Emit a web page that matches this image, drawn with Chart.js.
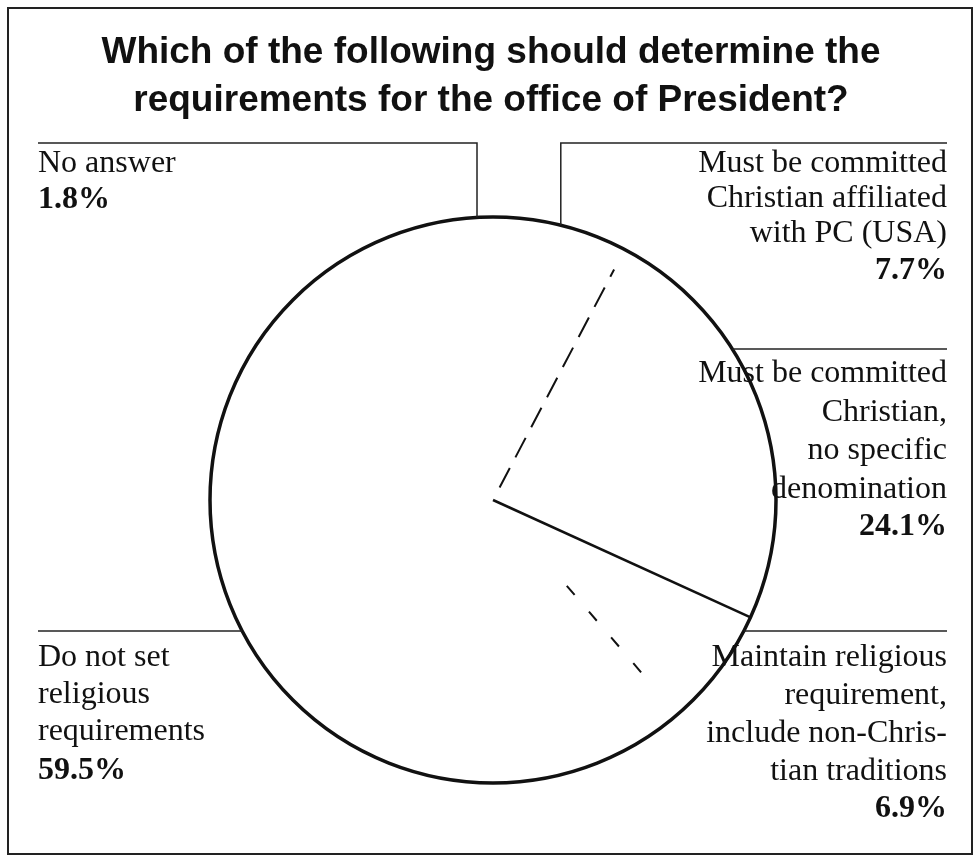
<!DOCTYPE html>
<html>
<head>
<meta charset="utf-8">
<script src="https://cdn.jsdelivr.net/npm/chart.js@4.4.1/dist/chart.umd.min.js"></script>
<style>
    body { margin: 0; background: #fff; }
    #wrap { position: relative; width: 980px; height: 859px; }
</style>
</head>
<body>
<div id="wrap"><canvas id="pieChart"></canvas></div>
<script>
// Survey answers, clockwise from 12 o'clock
const categories = [
    ['Must be committed', 'Christian affiliated', 'with PC (USA)'],
    ['Must be committed', 'Christian,', 'no specific', 'denomination'],
    ['Maintain religious', 'requirement,', 'include non-Chris-', 'tian traditions'],
    ['Do not set', 'religious', 'requirements'],
    ['No answer']
];
const shares = [7.7, 24.1, 6.9, 59.5, 1.8];
const titleLines = ['Which of the following should determine the', 'requirements for the office of President?'];

// where each label sits (layout only)
const labelLayout = [
    { side: 'right', ruleY: 143, drop: true, firstLine: 164, step: 35, pctGap: 37 },
    { side: 'right', ruleY: 349, drop: false, firstLine: 374, step: 38.5, pctGap: 37 },
    { side: 'right', ruleY: 631, drop: false, firstLine: 658, step: 37.7, pctGap: 38 },
    { side: 'left', ruleY: 631, drop: false, firstLine: 658, step: 37, pctGap: 39 },
    { side: 'left', ruleY: 143, drop: true, firstLine: 164, step: 35, pctGap: 36 }
];

const LEFT_X = 38;
const RIGHT_X = 947;
const SERIF = '"Liberation Serif", "Times New Roman", serif';

const piePlugin = {
    id: 'piePlugin',
    afterDatasetsDraw(chart) {
        const ctx = chart.ctx;
        const arcs = chart.getDatasetMeta(0).data;
        const cx = arcs[0].x;
        const cy = arcs[0].y;
        const r = arcs[0].outerRadius;

        ctx.save();
        // outline of the pie
        ctx.strokeStyle = '#111';
        ctx.lineWidth = 3.5;
        ctx.beginPath();
        ctx.arc(cx, cy, r, 0, Math.PI * 2);
        ctx.stroke();

        // slice edges that show in the print
        const edge = (angle, from, to, width, dash) => {
            ctx.lineWidth = width;
            ctx.setLineDash(dash);
            ctx.beginPath();
            ctx.moveTo(cx + Math.cos(angle) * r * from, cy + Math.sin(angle) * r * from);
            ctx.lineTo(cx + Math.cos(angle) * r * to, cy + Math.sin(angle) * r * to);
            ctx.stroke();
        };
        edge(arcs[0].endAngle, 0.05, 0.92, 2, [22, 12]);
        edge(arcs[1].endAngle, 0, 1, 2.5, []);
        edge(arcs[2].endAngle, 0.4, 0.86, 2, [12, 22]);
        ctx.setLineDash([]);

        // leader rules and labels
        ctx.lineWidth = 1.5;
        ctx.strokeStyle = '#222';
        ctx.fillStyle = '#111';
        ctx.textBaseline = 'middle';
        arcs.forEach((arc, i) => {
            const lay = labelLayout[i];
            const right = lay.side === 'right';
            const textX = right ? RIGHT_X : LEFT_X;
            let attachX;
            ctx.beginPath();
            if (lay.drop) {
                const mid = (arc.startAngle + arc.endAngle) / 2;
                attachX = cx + Math.cos(mid) * r;
                const dx = attachX - cx;
                const edgeY = cy - Math.sqrt(r * r - dx * dx);
                ctx.moveTo(textX, lay.ruleY);
                ctx.lineTo(attachX, lay.ruleY);
                ctx.lineTo(attachX, edgeY);
            } else {
                const dy = lay.ruleY - cy;
                const span = Math.sqrt(r * r - dy * dy);
                attachX = right ? cx + span : cx - span;
                ctx.moveTo(textX, lay.ruleY);
                ctx.lineTo(attachX, lay.ruleY);
            }
            ctx.stroke();

            ctx.textAlign = right ? 'right' : 'left';
            ctx.font = '32px ' + SERIF;
            const lines = categories[i];
            lines.forEach((line, k) => {
                ctx.fillText(line, textX, lay.firstLine + k * lay.step);
            });
            ctx.font = 'bold 32px ' + SERIF;
            const pctY = lay.firstLine + (lines.length - 1) * lay.step + lay.pctGap;
            ctx.fillText(shares[i].toFixed(1) + '%', textX, pctY);
        });

        // title
        ctx.textAlign = 'center';
        ctx.font = 'bold 37px "Liberation Sans", Arial, sans-serif';
        ctx.fillText(titleLines[0], 491, 53);
        ctx.fillText(titleLines[1], 491, 101);

        // frame
        ctx.lineWidth = 2;
        ctx.strokeStyle = '#222';
        ctx.strokeRect(8, 8, 964, 846);
        ctx.restore();
    }
};

const ctx = document.getElementById('pieChart').getContext('2d');
const chart = new Chart(ctx, {
    type: 'pie',
    data: {
        labels: categories.map(c => c.join(' ')),
        datasets: [{
            data: shares,
            backgroundColor: '#ffffff',
            borderWidth: 0
        }]
    },
    options: {
        responsive: true,
        maintainAspectRatio: false,
        animation: false,
        layout: {
            padding: { left: 210, right: 204, top: 217, bottom: 76 }
        },
        plugins: {
            legend: { display: false },
            tooltip: { enabled: false },
            title: { display: false }
        }
    },
    plugins: [piePlugin]
});
</script>
</body>
</html>
